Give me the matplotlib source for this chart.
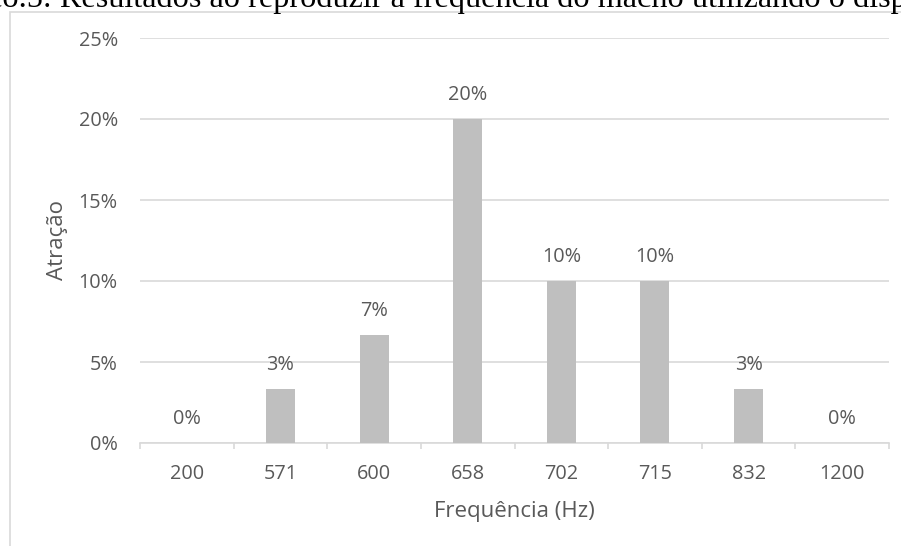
import matplotlib
matplotlib.use("Agg")
import matplotlib.pyplot as plt
from matplotlib.patches import Rectangle
from matplotlib.ticker import FixedLocator, PercentFormatter

# dados do ensaio de atração
freqs = ["200", "571", "600", "658", "702", "715", "832", "1200"]
atracao = [0.0, 1 / 30, 2 / 30, 6 / 30, 3 / 30, 3 / 30, 1 / 30, 0.0]

cinza_txt = "#595959"
cinza_bar = "#BFBFBF"
cinza_lin = "#D9D9D9"

plt.rcParams["font.family"] = ["Open Sans", "DejaVu Sans"]

W, H = 901, 546
fig = plt.figure(figsize=(W / 100, H / 100), dpi=100)

# legenda da figura no documento (cortada no topo e à esquerda)
prefixo = "Gráfico.5: "
resto = "Resultados ao reproduzir a frequência do macho utilizando o dispositivo"
serif = dict(family=["Liberation Serif"], fontsize=23.2, color="black", va="baseline")
tmp = fig.text(0, 0, prefixo, **serif)
larg = tmp.get_window_extent(renderer=fig.canvas.get_renderer()).width
tmp.remove()
fig.text((60 - larg) / W, 1 - 7 / H, prefixo + resto, ha="left", **serif)

# moldura do gráfico
fig.patches.append(Rectangle((10 / W, -0.05), 1.2, 1 - 12 / H + 0.05, transform=fig.transFigure,
                             fill=False, edgecolor=cinza_lin, lw=1.2))

ax = fig.add_axes([140 / W, 1 - 443 / H, (889 - 140) / W, (443 - 38) / H])
x = range(len(freqs))
ax.bar(x, atracao, width=0.31, color=cinza_bar, zorder=3)

for xi, v in zip(x, atracao):
    ax.annotate(f"{v:.0%}", (xi, v), xytext=(0, 17), textcoords="offset points",
                ha="center", va="center", fontsize=14.3, color=cinza_txt)

ax.set_xlim(-0.5, len(freqs) - 0.5)
ax.set_ylim(0, 0.25)
ax.set_yticks([0, 0.05, 0.10, 0.15, 0.20, 0.25])
ax.yaxis.set_major_formatter(PercentFormatter(1.0, decimals=0))
ax.set_xticks(list(x))
ax.set_xticklabels(freqs)
ax.xaxis.set_minor_locator(FixedLocator([i - 0.5 for i in range(len(freqs) + 1)]))

ax.grid(axis="y", color=cinza_lin, lw=1.2, zorder=0)
for s in ["top", "right", "left"]:
    ax.spines[s].set_visible(False)
ax.spines["bottom"].set_color(cinza_lin)
ax.spines["bottom"].set_linewidth(1.2)

ax.tick_params(axis="y", length=0, pad=16, labelsize=14.3, labelcolor=cinza_txt)
ax.tick_params(axis="x", which="major", length=0, pad=15, labelsize=14.3, labelcolor=cinza_txt)
ax.tick_params(axis="x", which="minor", length=4.5, width=1.2, color=cinza_lin)

fig.text(57 / W, 1 - 240 / H, "Atração", rotation=90, ha="center", va="center",
         fontsize=16, color=cinza_txt)
fig.text(514 / W, 1 - 512 / H, "Frequência (Hz)", ha="center", va="center",
         fontsize=16, color=cinza_txt)

fig.savefig("out.png", dpi=100)
